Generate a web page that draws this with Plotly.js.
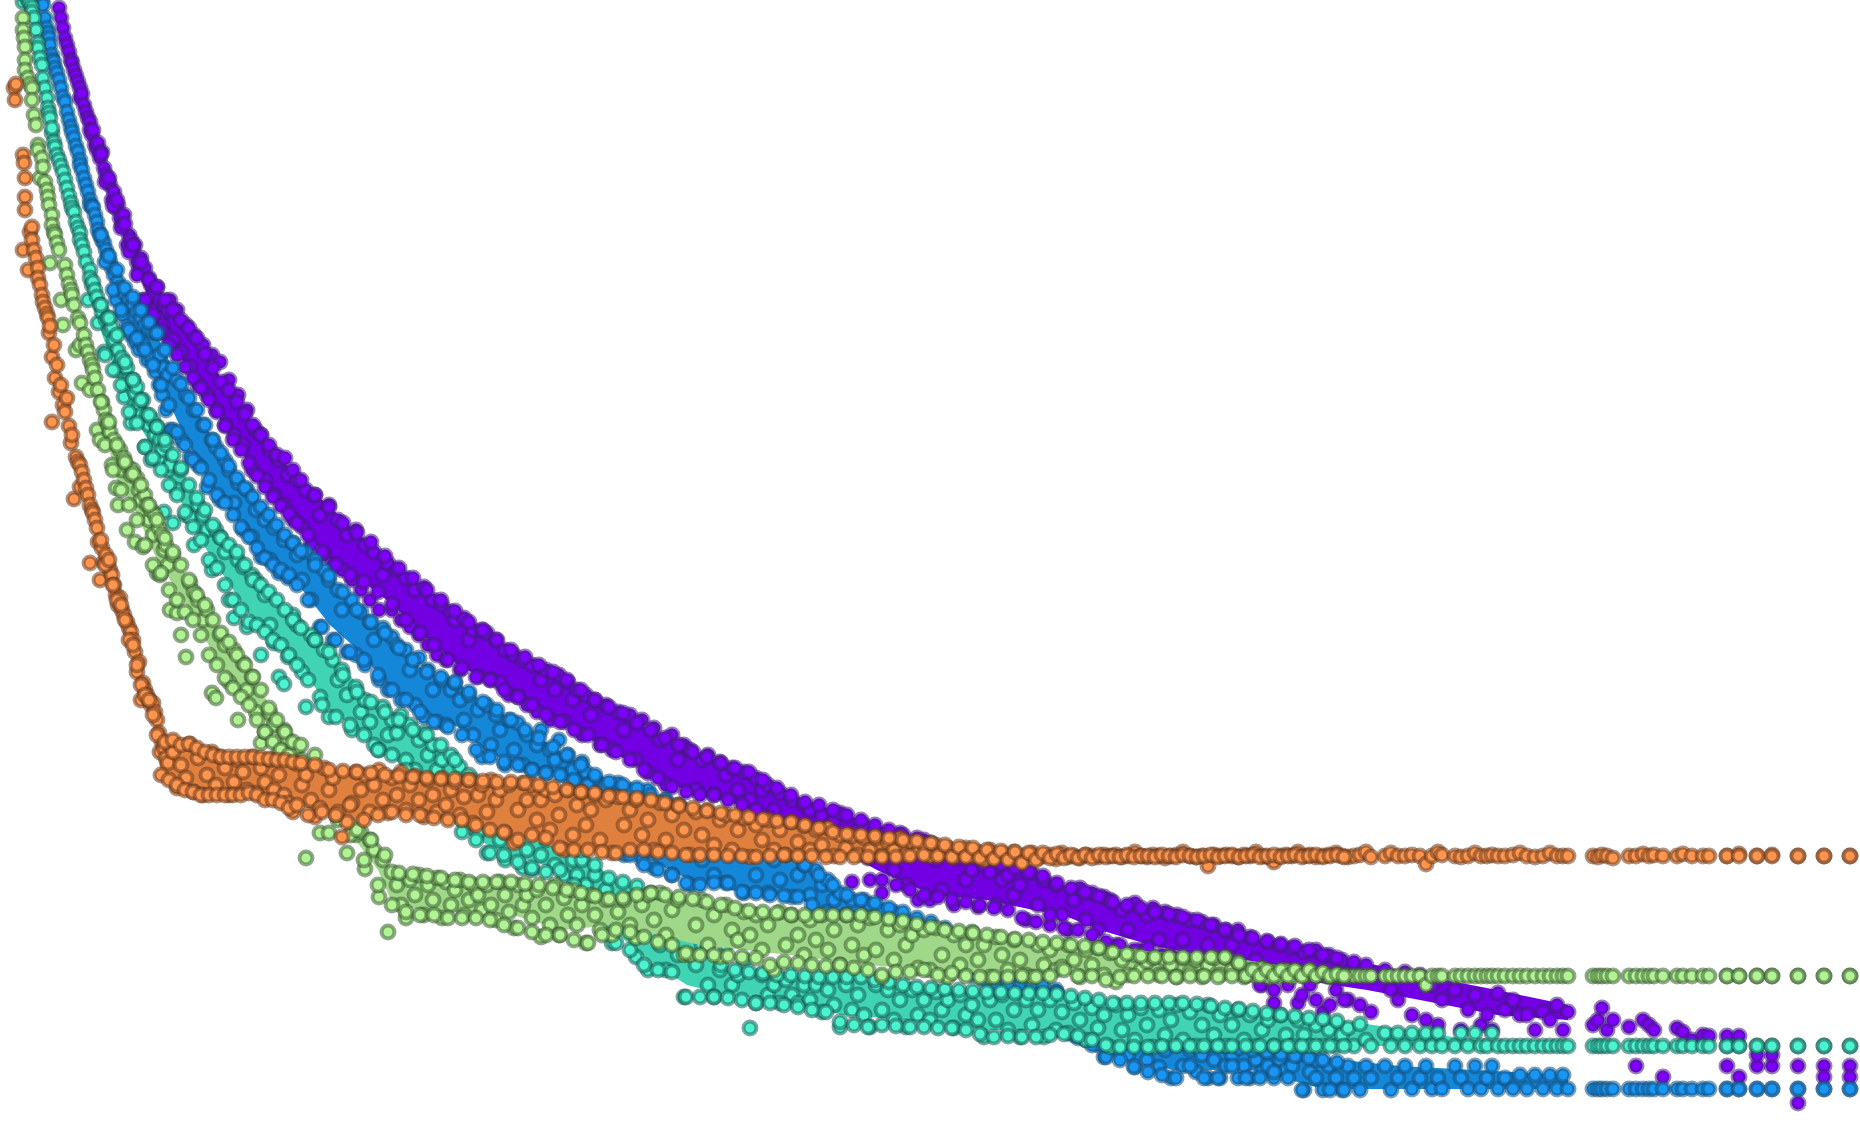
<!DOCTYPE html>
<html><head><meta charset="utf-8">
<script src="https://cdn.plot.ly/plotly-3.0.1.min.js"></script>
<style>html,body{margin:0;padding:0;background:#fff}</style></head>
<body><div id="chart" style="width:1860px;height:1133px"></div>
<script>
const xValues=[14,15,16,23,23,24,25,25,25,28,
30,32,32,34,36,38,38,40,42,43,
45,47,48,49,50,52,52,54,55,57,
59,61,63,65,67,69,71,72,74,76,
78,80,80,82,84,86,88,90,90,92,
93,95,97,98,100,102,104,106,108,110,
112,114,116,118,120,122,124,127,129,131,
133,135,137,139,141,143,145,147,149,151,
153,155,157,159,160,162,164,166,168,170,
173,177,181,186,190,194,198,203,207,212,
216,220,225,229,234,238,243,247,252,256,
261,265,270,274,279,284,288,293,297,302,
306,311,315,320,324,329,333,338,342,347,
352,356,361,365,370,374,379,383,388,392,
397,401,406,410,415,419,424,428,433,437,
442,446,451,455,460,464,469,473,478,482,
487,491,496,500,505,509,514,518,523,527,
532,537,541,546,550,555,559,564,568,573,
577,582,586,591,595,600,606,612,618,624,
630,636,642,648,654,660,666,672,678,684,
690,696,702,708,714,720,726,732,738,744,
750,756,762,768,774,780,786,792,798,804,
810,816,822,828,834,840,846,852,858,864,
870,876,882,888,894,900,906,912,918,924,
930,936,942,948,954,960,966,972,978,984,
990,996,1002,1008,1014,1020,1026,1032,1038,1044,
1050,1056,1062,1068,1074,1080,1086,1092,1098,1104,
1110,1116,1122,1128,1135,1141,1147,1153,1159,1165,
1171,1177,1183,1190,1196,1202,1208,1214,1220,1226,
1232,1238,1244,1250,1256,1262,1268,1274,1280,1286,
1292,1298,1304,1310,1316,1323,1329,1336,1342,1348,
1354,1360,1366,1371,1385,1391,1398,1405,1412,1420,
1426,1432,1438,1442,1455,1461,1468,1475,1481,1487,
1492,1498,1505,1513,1520,1527,1535,1543,1550,1557,
1563,1568,1593,1598,1602,1607,1613,1629,1636,1643,
1649,1654,1663,1677,1683,1692,1703,1709,1727,1739,
1757,1772,1798,1824,1850,1727,1739,1757,1772,1798,
1824,1850,
101,105,109,113,117,121,125,129,133,137,
141,145,149,153,157,161,165,169,173,177,
181,185,189,193,197,201,205,209,213,217,
221,225,229,233,237,241,245,249,253,257,
261,265,269,273,277,281,285,289,293,297,
301,308,315,322,329,336,343,350,357,364,
371,378,385,392,399,406,413,420,427,434,
441,448,455,462,469,476,483,490,497,504,
511,518,525,532,539,546,553,560,567,574,
581,588,595,602,609,616,623,630,637,644,
651,658,665,672,679,686,693,700,707,714,
721,728,735,742,749,756,763,770,777,784,
791,798,805,812,819,826,833,840,847,854,
861,868,875,882,889,896,903,910,917,924,
931,938,945,952,959,966,973,980,987,994,
1001,1008,1015,1022,1029,1036,1043,1050,1057,1064,
1071,1078,1085,1092,1099,1106,1113,1120,1127,1134,
1141,1148,1155,1162,1169,1176,1183,1190,1197,1204,
1211,1218,1225,1232,1239,1246,1253,1260,1267,1274,
1281,1288,1295,1302,1309,1316,1323,1330,1337,1344];
const purple=[-30,-30,-30,-30,-30,-30,-30,-30,-30,-30,
-30,-30,-30,-30,-30,-30,-30,-30,-30,-30,
-30,-30,-30,-30,-30,-30,-30,-30,-30,-30,
8,18,28,38,45,52,60,63,70,76,
82,88,98,94,105,112,118,122,130,135,
130,145,150,143,158,152,168,175,180,185,
200,192,208,205,218,225,215,245,235,240,
250,245,262,270,258,300,268,305,278,285,
295,310,287,318,300,325,305,335,310,300,
340,310,352,325,367,335,385,345,395,355,
410,362,425,380,435,395,445,410,470,430,
435,480,450,495,460,505,475,520,480,527,
490,545,495,515,555,505,565,520,570,535,
580,530,590,545,600,552,610,575,563,610,
570,620,578,627,590,635,587,645,600,655,
605,660,612,620,670,618,640,630,677,630,
633,680,640,683,650,695,655,697,660,705,
665,712,680,670,720,690,675,722,682,700,
690,735,695,715,700,745,705,750,712,730,
715,760,720,773,728,740,785,735,760,745,
750,790,760,755,795,762,775,768,790,772,
800,778,790,785,810,793,825,800,835,805,
810,830,815,835,820,813,850,882,830,825,
880,840,893,832,870,833,885,850,900,840,
900,860,890,850,905,858,880,870,907,865,
872,905,880,875,895,885,920,873,905,880,
925,885,915,930,900,888,920,893,930,897,
900,945,910,930,903,950,915,908,940,912,
955,915,940,920,965,922,945,925,960,930,
945,930,975,937,960,985,942,1003,945,970,
948,1003,952,985,950,1012,955,990,960,1000,
962,1005,965,1012,970,990,1000,972,1015,975,
1020,985,1025,1000,990,1030,1010,995,1025,1015,
1030,993,1010,1000,1015,1015,1030,1012,1020,1005,
1030,1012,1025,1020,1008,1030,1020,1027,1066,1020,
1025,1030,1077,1028,1032,1040,1035,1036,1036,1036,
1066,1066,1066,1066,1066,1066,1077,1055,1055,1103,
1077,1077,
154,182,178,206,200,228,224,252,245,275,
262,300,280,315,287,330,300,345,310,355,
320,367,328,378,338,388,354,400,368,412,
382,426,390,440,402,450,414,463,425,476,
435,487,445,497,455,506,458,514,470,523,
480,535,495,552,507,565,523,575,533,582,
542,592,556,604,568,620,578,633,590,645,
600,660,611,668,622,677,630,680,640,690,
650,697,657,705,665,715,672,722,680,730,
690,735,700,745,707,752,713,760,723,770,
730,778,738,787,745,792,752,795,757,795,
763,800,768,805,772,810,780,818,788,825,
795,832,802,838,805,845,810,850,815,852,
820,858,825,880,830,885,835,890,838,895,
843,897,848,900,852,902,856,905,860,908,
864,910,868,918,872,922,876,915,883,928,
888,930,892,935,896,942,902,945,905,950,
908,948,912,955,914,960,917,962,920,965,
925,968,930,972,935,975,938,985,941,990,
944,985,946,995,950,1000,955,1005,958,1000];
const blue=[-30,-30,-30,-30,-30,-30,-30,-30,-30,-30,
-30,-30,-30,-30,-30,-30,-30,-25,0,5,
18,28,33,38,45,55,60,62,68,73,
80,88,97,102,112,120,127,132,138,146,
152,160,165,170,178,185,192,200,205,207,
207,215,222,230,235,240,243,250,256,262,
268,275,300,282,288,315,293,327,300,335,
305,342,312,350,318,345,325,360,330,357,
332,372,333,385,355,395,368,410,375,430,
430,380,440,395,457,410,465,425,487,440,
447,500,460,470,503,483,530,490,537,510,
557,520,560,528,573,540,578,543,555,580,
552,600,560,627,570,580,640,590,610,652,
600,655,612,665,622,640,680,628,690,637,
645,700,650,670,705,658,717,670,690,722,
680,725,690,683,700,720,695,735,710,757,
705,745,715,730,765,720,750,723,765,735,
770,745,730,773,750,760,740,775,755,770,
783,762,772,790,778,810,785,835,783,855,
790,815,860,790,868,825,800,875,840,810,
885,815,860,830,875,825,883,845,835,893,
840,875,850,893,860,880,855,897,875,865,
895,870,885,880,900,893,915,900,920,900,
905,925,910,935,912,950,920,940,925,955,
930,955,938,965,945,970,950,975,955,980,
960,985,965,990,1000,975,1010,985,1015,995,
1020,990,1030,1005,1035,1010,1040,1015,1045,1057,
1020,1050,1030,1055,1067,1035,1060,1045,1067,1050,
1078,1045,1066,1050,1072,1055,1078,1060,1078,1066,
1055,1078,1066,1078,1060,1072,1066,1078,1060,1070,
1066,1055,1090,1072,1060,1090,1066,1078,1090,1066,
1078,1090,1066,1078,1066,1090,1078,1066,1089,1078,
1066,1089,1078,1089,1066,1078,1089,1066,1089,1078,
1066,1089,1078,1089,1075,1089,1075,1089,1075,1089,
1075,1089,1089,1089,1089,1089,1089,1089,1089,1089,
1089,1089,1089,1089,1089,1089,1089,1089,1089,1089,
1089,1089,1089,1089,1089,1089,1089,1089,1089,1089,
1089,1089,
235,262,256,290,270,310,288,330,297,338,
310,350,322,365,333,385,350,405,368,432,
384,445,398,460,410,468,425,480,440,495,
453,503,466,515,478,527,488,537,497,548,
507,558,515,565,525,570,535,575,543,585,
551,600,565,627,576,640,592,652,610,660,
622,675,633,690,648,700,660,712,672,722,
677,727,682,735,692,750,702,757,710,762,
720,765,730,770,738,773,747,775,755,780,
765,785,775,820,782,848,785,855,788,865,
795,870,800,875,805,883,812,885,818,883,
822,883,826,892,835,893,842,895,848,896,
852,897,865,905,875,912,885,920,895,925,
900,932,903,940,908,945,912,950,918,955,
922,960,928,965,934,970,940,973,945,977,
950,985,962,1000,975,1012,985,1020,993,1030,
1000,1038,1007,1045,1014,1057,1020,1060,1025,1067,
1028,1072,1032,1075,1038,1078,1040,1066,1042,1078,
1044,1078,1046,1066,1048,1078,1050,1078,1052,1072,
1054,1078,1056,1090,1058,1078,1060,1090,1062,1090];
const teal=[-30,-30,-30,2,-10,-30,-5,-30,-30,0,
3,7,12,18,30,43,48,58,65,78,
88,98,108,113,118,133,128,142,147,155,
160,166,172,180,188,196,203,208,212,222,
228,233,240,245,252,262,300,270,278,285,
282,290,297,323,305,312,352,320,318,330,
327,340,370,350,365,358,397,368,380,423,
380,393,387,405,415,400,447,415,425,460,
420,435,427,460,440,450,512,445,470,465,
523,490,470,515,517,545,505,515,530,570,
530,537,552,600,618,560,567,627,575,580,
655,595,625,643,677,684,657,615,625,672,
707,635,640,697,650,717,660,680,670,695,
730,687,712,700,722,745,750,707,735,720,
733,715,760,725,770,740,733,755,745,770,
760,785,755,800,767,810,790,780,833,800,
853,790,820,840,860,800,835,815,868,850,
870,820,855,840,830,865,845,875,835,860,
875,860,885,900,875,915,890,943,905,925,
900,957,925,970,910,945,970,925,955,997,
925,965,945,985,997,970,945,985,975,960,
1028,1003,975,995,985,1003,980,995,1003,985,
1000,985,1012,990,1005,1027,985,1010,995,1015,
1027,985,1010,990,1020,1000,1027,990,1015,1000,
1020,992,1010,1000,1028,995,1015,1005,1020,1037,
1000,1020,995,1030,1010,1037,1000,1025,1010,1037,
1000,1030,1012,1033,1003,1020,1040,1008,1028,1015,
1047,1005,1030,1015,1040,1008,1025,1047,1010,1035,
1020,1005,1040,1012,1046,1025,1005,1035,1015,1046,
1025,1010,1040,1015,1046,1030,1020,1046,1015,1035,
1046,1020,1035,1046,1025,1046,1030,1046,1035,1028,
1046,1024,1040,1046,1033,1046,1033,1046,1033,1046,
1033,1046,1033,1046,1046,1033,1046,1033,1046,1046,
1033,1046,1046,1046,1046,1046,1046,1046,1046,1046,
1046,1046,1046,1046,1046,1046,1046,1046,1046,1046,
1046,1046,1046,1046,1046,1046,1046,1046,1046,1046,
1046,1046,1046,1046,1046,1046,1046,1046,1046,1046,
1046,1046,
305,355,318,370,335,385,362,412,380,423,
400,447,415,458,427,470,440,485,455,495,
468,512,485,527,498,540,510,560,525,568,
538,585,545,600,552,610,565,622,580,625,
585,632,592,640,600,645,610,655,620,665,
628,680,640,705,652,717,675,725,692,735,
702,750,712,755,720,770,730,780,735,800,
745,815,760,832,775,840,785,853,790,855,
803,862,810,868,820,872,825,870,835,885,
850,900,865,925,878,943,882,950,886,965,
893,970,898,972,905,997,925,997,950,997,
965,998,970,1000,972,1003,973,1003,975,1005,
975,1007,976,1010,977,1012,977,1022,977,1025,
977,1027,980,1025,982,1026,985,1027,987,1027,
988,1028,989,1028,990,1030,991,1034,992,1037,
992,1036,993,1037,993,1037,993,1035,994,1034,
996,1036,998,1040,1000,1045,1003,1047,1003,1047,
1003,1047,1003,1046,1003,1046,1003,1046,1004,1046,
1006,1046,1008,1046,1009,1046,1011,1046,1013,1046,
1015,1046,1016,1046,1018,1046,1019,1046,1021,1046];
const green=[-30,-30,-30,18,30,38,47,60,70,78,
84,88,100,115,125,145,150,178,158,167,
182,190,197,205,263,215,225,232,235,243,
250,300,325,265,275,284,290,295,305,350,
318,323,345,383,335,345,352,360,390,365,
370,378,430,390,440,402,410,420,425,432,
465,440,488,505,450,470,458,530,468,475,
470,542,478,490,500,547,495,505,520,510,
535,515,573,528,575,535,550,545,565,610,
555,613,635,657,583,592,600,620,610,693,
698,635,645,682,650,720,663,690,677,712,
743,732,713,725,752,730,740,755,748,760,
858,775,785,833,795,833,805,820,812,853,
825,835,832,869,840,850,897,860,932,872,
885,905,918,880,895,875,915,885,900,878,
918,882,905,890,880,915,900,885,895,910,
885,905,920,882,895,912,928,885,905,895,
918,890,937,905,925,885,935,898,915,890,
925,905,943,895,915,930,900,935,912,900,
925,938,905,895,920,893,935,910,900,955,
955,925,900,945,915,957,905,930,940,912,
935,915,950,925,970,912,945,915,935,955,
920,940,915,950,930,965,915,945,925,955,
918,950,977,930,960,925,945,935,968,930,
970,928,955,977,935,965,945,932,960,945,
977,937,955,970,940,960,975,977,945,965,
950,970,967,945,960,977,950,965,948,975,
953,982,960,975,955,970,962,958,975,960,
965,977,958,972,960,977,965,958,975,958,
970,962,977,970,976,968,977,972,976,970,
977,972,976,970,976,974,977,975,976,976,
976,976,976,976,976,976,976,976,976,976,
985,976,976,976,976,976,976,976,976,976,
976,976,976,976,976,976,976,976,976,976,
976,976,976,976,976,976,976,976,976,976,
976,976,976,976,976,976,976,976,976,976,
976,976,976,976,976,976,976,976,976,976,
976,976,
402,445,422,470,445,490,462,505,474,520,
485,545,505,565,520,573,538,590,552,600,
565,612,580,620,595,635,605,655,620,665,
633,678,642,688,655,697,665,705,677,720,
690,732,708,742,720,750,732,755,742,765,
745,775,755,790,785,815,808,835,830,860,
840,885,855,905,873,912,874,915,876,915,
878,918,880,918,882,918,882,920,882,925,
882,928,884,932,885,935,888,935,890,940,
893,943,896,935,899,930,898,932,895,937,
893,942,895,945,897,953,899,955,902,955,
905,956,908,957,911,958,912,965,913,962,
915,963,915,965,915,966,915,965,915,968,
915,970,917,975,919,972,921,972,924,970,
927,975,930,973,931,976,933,977,935,977,
937,977,939,976,940,977,942,976,943,970,
945,976,946,976,948,980,952,977,954,976,
956,976,957,976,957,977,957,976,957,976,
957,977,957,976,963,976,970,976,970,976,
970,976,970,976,970,976,972,976,974,976];
const orange=[88,100,84,155,250,163,178,197,210,270,
232,227,240,250,258,268,278,285,295,302,
308,314,318,333,326,357,422,345,378,365,
392,385,405,412,398,426,443,435,499,457,
462,465,487,472,480,488,495,505,563,510,
513,520,528,542,580,548,562,555,565,570,
575,585,595,605,598,610,615,622,628,632,
640,652,672,662,700,683,690,695,700,705,
703,712,720,733,752,742,748,758,763,745,
752,788,765,778,744,792,758,795,775,752,
785,757,768,795,782,760,772,790,757,793,
768,782,760,790,775,795,803,812,764,785,
775,800,817,808,768,790,778,812,837,822,
803,772,790,775,812,785,770,800,813,778,
795,772,810,785,776,800,817,780,795,812,
778,805,790,782,815,797,780,823,795,785,
812,780,800,790,833,785,843,810,783,800,
785,820,800,790,830,795,815,850,790,835,
805,792,825,810,795,840,800,853,797,825,
810,800,835,820,850,803,840,815,805,830,
855,812,835,810,845,820,815,850,830,818,
857,825,840,820,850,830,855,822,842,826,
850,830,845,828,856,835,848,836,855,838,
850,838,856,842,850,838,855,842,852,845,
856,845,852,848,857,850,848,856,852,860,
850,856,853,858,852,860,855,853,858,856,
855,859,853,857,856,858,855,856,857,855,
856,855,857,856,852,856,857,855,856,858,
856,855,852,856,857,856,866,855,856,855,
856,857,855,856,852,856,857,862,856,855,
856,852,856,855,857,856,855,853,856,857,
856,855,852,857,856,853,856,856,855,856,
864,856,852,855,856,857,856,853,856,856,
855,856,856,855,853,856,857,856,853,856,
856,856,856,857,855,856,858,856,856,854,
856,855,856,856,854,856,856,856,856,854,
856,855,856,856,856,856,856,856,856,856,
856,856,
540,565,560,585,600,605,620,640,645,665,
685,695,700,715,735,775,742,780,740,785,
745,790,744,792,748,795,752,795,755,795,
757,795,757,795,757,795,757,793,757,795,
758,800,759,800,760,803,760,808,762,805,
763,815,765,812,770,815,771,805,772,820,
773,815,775,812,776,815,777,815,778,818,
779,820,779,820,780,825,781,830,782,832,
782,840,783,835,785,838,787,848,790,850,
792,850,793,852,796,853,797,850,798,850,
800,852,803,853,806,855,808,855,811,855,
813,856,815,856,817,857,819,856,821,855,
822,856,825,856,828,857,832,857,834,857,
835,857,836,857,838,857,840,856,841,855,
843,856,845,857,847,857,848,858,850,859,
851,860,852,863,853,860,853,858,854,858,
855,858,855,858,855,857,856,857,855,857,
856,856,857,855,856,857,855,856,857,856,
855,857,856,855,857,856,855,857,856,855,
857,856,855,857,856,855,857,856,855,857];
// densely overplotted band of each series: upper and lower edge
const purpleEdgeX=[58,72,93,127,157,187,227,260,297,330,357,393,423,458,487,517,557,600,650,690,740,787,840,877,933,987,1033,1063,1100,1150,1200,1247,1300,1367,1420,1497,1568];
const purpleUpper=[5,55,130,230,287,325,387,433,477,507,533,563,587,613,633,653,673,703,730,750,770,793,813,825,843,860,873,885,897,910,920,937,947,963,975,990,1005];
const purpleLower=[10,68,145,245,318,367,430,480,523,560,577,605,635,665,680,697,720,745,773,793,805,830,850,870,895,900,910,915,930,945,955,965,980,990,1000,1015,1020];
const blueEdgeX=[43,57,80,103,127,157,177,197,217,240,267,293,330,360,390,423,458,487,517,563,613,650,690,743,797,840,893,950,1000,1050,1100,1173,1253,1323,1400,1568];
const blueUpper=[5,70,155,240,290,335,377,410,447,483,513,543,577,613,637,670,683,705,723,753,783,795,810,830,855,893,910,930,950,990,1015,1040,1050,1058,1066,1075];
const blueLower=[5,76,165,245,320,375,420,460,495,525,555,578,625,652,688,712,727,752,765,775,840,860,880,893,897,920,945,965,977,1020,1050,1070,1070,1089,1089,1089];
const tealEdgeX=[32,43,52,72,97,127,157,180,200,220,253,280,300,330,378,407,460,507,563,613,648,687,727,780,843,908,985,1067,1110,1247,1360,1513,1568];
const tealUpper=[7,78,133,203,297,368,427,467,503,537,580,603,627,653,707,725,767,800,830,880,890,910,970,975,977,987,992,995,1003,1010,1023,1046,1046];
const tealLower=[7,78,133,203,320,405,455,500,540,570,620,640,665,710,745,770,830,855,870,930,960,985,995,1000,1015,1020,1030,1030,1045,1046,1046,1046,1046];
const greenEdgeX=[23,32,43,55,72,93,117,135,157,190,222,253,290,320,348,378,393,423,513,563,613,700,790,867,933,1003,1093,1227,1347,1568];
const greenUpper=[18,88,167,235,295,368,450,477,520,583,635,677,740,775,815,850,872,875,882,890,900,900,915,915,928,937,947,957,976,976];
const greenLower=[18,88,167,235,300,385,480,510,560,610,670,705,755,790,830,870,905,910,915,930,925,945,955,965,970,975,975,976,976,976];
const orangeEdgeX=[43,52,63,80,97,118,133,143,157,160,190,220,252,298,330,363,393,425,473,507,565,615,653,703,752,787,833,877,910,967,1033,1093];
const orangeUpper=[302,345,395,465,520,600,640,683,720,735,744,757,757,762,773,773,777,778,780,782,790,797,802,810,817,822,832,836,840,848,853,855];
const orangeLower=[302,345,395,465,525,605,645,690,730,770,790,795,793,805,815,820,812,817,823,833,850,853,850,855,857,855,857,857,856,857,858,857];
const seriesList=[
 [purple,'#8000ff','rgba(70,25,130,0.55)','#7200e2',purpleEdgeX,purpleUpper,purpleLower],
 [blue,'#1996f3','rgba(20,80,125,0.55)','#1587d8',blueEdgeX,blueUpper,blueLower],
 [teal,'#4df3ce','rgba(20,95,85,0.55)','#40d4b4',tealEdgeX,tealUpper,tealLower],
 [green,'#b2f396','rgba(60,95,50,0.55)','#9fd888',greenEdgeX,greenUpper,greenLower],
 [orange,'#ff964f','rgba(110,60,30,0.55)','#e0803f',orangeEdgeX,orangeUpper,orangeLower]];
const traces=[];
seriesList.forEach(([y,c,ring,band,ex,up,lo])=>{
  traces.push({type:'scatter',mode:'none',fill:'toself',fillcolor:band,hoverinfo:'skip',
    x:ex.concat(ex.slice().reverse()),y:up.concat(lo.slice().reverse())});
  traces.push({type:'scatter',mode:'markers',x:xValues,y:y,hoverinfo:'skip',
    marker:{size:13,color:c,line:{width:4,color:ring}}});
});
Plotly.newPlot('chart',traces,{width:1860,height:1133,margin:{l:0,r:0,t:0,b:0},showlegend:false,
  paper_bgcolor:'#fff',plot_bgcolor:'#fff',
  xaxis:{range:[0,1860],visible:false},yaxis:{range:[1133,0],visible:false}},{displayModeBar:false,staticPlot:true});
</script></body></html>
